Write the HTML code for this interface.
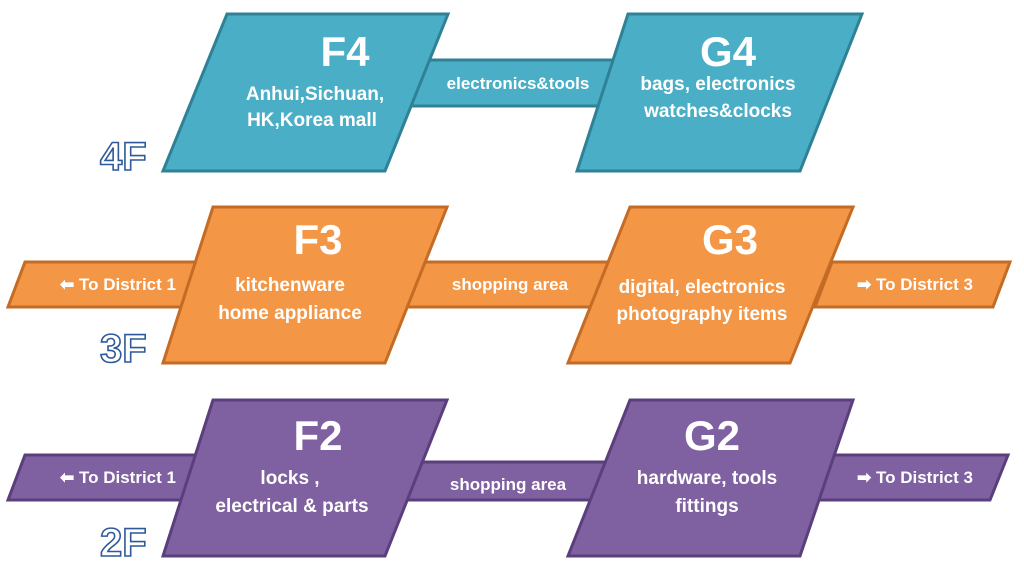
<!DOCTYPE html>
<html><head><meta charset="utf-8"><style>
html,body{margin:0;padding:0;background:#fff;}
svg{display:block;font-family:"Liberation Sans",sans-serif;}
.t{fill:#fff;font-weight:bold;text-anchor:middle;}
.fl{fill:#fff;stroke:#2e5a9a;stroke-width:1.6;font-size:40px;font-weight:bold;}
</style></head><body>
<svg width="1024" height="574" viewBox="0 0 1024 574">
<!-- Row 4 blue -->
<g fill="#4aaec6" stroke="#2f8296" stroke-width="3">
<polygon points="425,60 632,60 615,106 408,106"/>
<polygon points="227,14 448,14 385,171 163,171"/>
<polygon points="628,14 862,14 800,171 577,171"/>
</g>
<text class="t" x="345" y="66" font-size="42">F4</text>
<text class="t" x="315" y="100" font-size="19">Anhui,Sichuan,</text>
<text class="t" x="312" y="126" font-size="19">HK,Korea mall</text>
<text class="t" x="518" y="89" font-size="17">electronics&amp;tools</text>
<text class="t" x="728" y="66" font-size="42">G4</text>
<text class="t" x="718" y="90" font-size="19">bags, electronics</text>
<text class="t" x="718" y="117" font-size="19">watches&amp;clocks</text>
<text class="fl" x="100" y="170">4F</text>

<!-- Row 3 orange -->
<g fill="#f39645" stroke="#c46b25" stroke-width="3">
<polygon points="25,262 210,262 193,307 8,307"/>
<polygon points="422,262 628,262 611,307 405,307"/>
<polygon points="832,262 1010,262 993,307 815,307"/>
<polygon points="213,207 447,207 385,363 163,363"/>
<polygon points="630,207 853,207 790,363 568,363"/>
</g>
<text class="t" x="118" y="290" font-size="17">⬅ To District 1</text>
<text class="t" x="318" y="254" font-size="42">F3</text>
<text class="t" x="290" y="291" font-size="19">kitchenware</text>
<text class="t" x="290" y="319" font-size="19">home appliance</text>
<text class="t" x="510" y="290" font-size="17">shopping area</text>
<text class="t" x="730" y="254" font-size="42">G3</text>
<text class="t" x="702" y="293" font-size="19">digital, electronics</text>
<text class="t" x="702" y="320" font-size="19">photography items</text>
<text class="t" x="915" y="290" font-size="17">➡ To District 3</text>
<text class="fl" x="100" y="362">3F</text>

<!-- Row 2 purple -->
<g fill="#7f60a0" stroke="#5b3f7d" stroke-width="3">
<polygon points="25,455 210,455 193,500 8,500"/>
<polygon points="422,462 628,462 611,500 405,500"/>
<polygon points="832,455 1008,455 990,500 815,500"/>
<polygon points="213,400 447,400 385,556 163,556"/>
<polygon points="630,400 853,400 800,556 568,556"/>
</g>
<text class="t" x="118" y="483" font-size="17">⬅ To District 1</text>
<text class="t" x="318" y="450" font-size="42">F2</text>
<text class="t" x="290" y="484" font-size="19">locks ,</text>
<text class="t" x="292" y="512" font-size="19">electrical &amp; parts</text>
<text class="t" x="508" y="490" font-size="17">shopping area</text>
<text class="t" x="712" y="450" font-size="42">G2</text>
<text class="t" x="707" y="484" font-size="19">hardware, tools</text>
<text class="t" x="707" y="512" font-size="19">fittings</text>
<text class="t" x="915" y="483" font-size="17">➡ To District 3</text>
<text class="fl" x="100" y="556">2F</text>
</svg>
</body></html>
